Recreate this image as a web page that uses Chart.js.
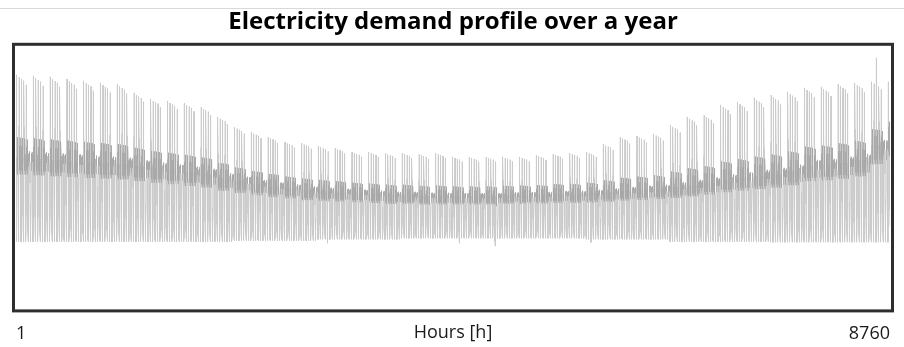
<!DOCTYPE html>
<html>
<head>
<meta charset="utf-8">
<script src="https://cdn.jsdelivr.net/npm/chart.js@4.4.1/dist/chart.umd.min.js"></script>
<style>
  body { margin: 0; background: #fff; }
</style>
</head>
<body>
<canvas id="demand" width="904" height="347"></canvas>
<script>
// Weekly levels (53 weeks, the last one is a single day)
// peak reached on the first working day of each week
const weekdayPeak = [89.3, 88.9, 88.5, 87.7, 87.0, 86.2, 85.8, 82.4, 80.1, 79.3,
  78.5, 77.0, 73.2, 69.3, 67.4, 65.5, 63.6, 63.2, 62.1, 61.3,
  59.8, 59.8, 59.4, 59.4, 59.0, 59.4, 57.9, 57.9, 57.9, 57.9,
  57.9, 58.6, 59.0, 59.4, 59.8, 62.8, 65.5, 65.9, 66.7, 70.1,
  73.2, 73.9, 77.8, 78.9, 80.5, 81.6, 82.8, 84.3, 84.7, 85.8,
  86.2, 86.6, 86.6];
// daytime plateau level
const dayLevel = [57.5, 57.1, 56.7, 56.3, 55.9, 55.6, 55.2, 54.4, 53.6, 52.9,
  52.1, 51.3, 49.8, 48.7, 47.5, 46.7, 46.0, 45.2, 44.8, 44.4,
  44.1, 43.7, 43.3, 43.3, 42.9, 42.9, 42.9, 42.9, 42.9, 43.3,
  43.3, 43.3, 43.7, 43.7, 44.1, 44.4, 44.8, 45.2, 45.6, 46.4,
  47.1, 47.9, 49.0, 49.8, 50.6, 51.3, 52.5, 54.4, 54.8, 55.6,
  56.7, 62.5, 66.3];
// night minimum
const nightBase = [25.5, 25.5, 25.5, 25.5, 25.5, 25.5, 25.5, 25.5, 25.5, 25.5,
  25.5, 25.5, 25.5, 25.9, 25.9, 25.9, 25.9, 25.9, 26.4, 26.4,
  26.4, 26.4, 26.4, 26.8, 26.8, 26.8, 26.8, 26.8, 26.8, 26.8,
  26.8, 26.8, 26.8, 26.8, 26.4, 26.4, 26.4, 26.4, 26.4, 25.5,
  25.5, 25.5, 25.5, 25.5, 25.5, 25.3, 25.3, 25.3, 25.3, 25.3,
  25.3, 25.3, 25.3];

// Hourly profile: 0 = night minimum, 1 = daytime plateau, 2 = peak
const weekdayShape = [0.1, 0.02, 0, 0, 0.05, 0.3, 0.9, 1.4, 2.0, 1.4, 1.0, 0.85,
  1.15, 0.85, 1.1, 0.9, 1.15, 0.85, 1.25, 1.05, 0.8, 0.5, 0.3, 0.15];
const weekendShape = [0.1, 0.02, 0, 0, 0, 0.05, 0.2, 0.5, 0.85, 1.1, 0.9, 1.15,
  0.85, 1.1, 0.9, 1.15, 0.85, 1.1, 1.2, 0.95, 0.7, 0.45, 0.25, 0.1];
// Mon..Sun share of the weekly peak
const dayPeakFactor = [1.0, 0.97, 0.95, 0.93, 0.88, 0.4, 0.35];

// Single days that stand out
const dipDays = [130, 185, 200, 240];
const dipValues = [24.9, 24.9, 23.8, 25.3];
const spikeDays = [359];
const spikeValues = [95.8];

const xTicks = [1, 8760];

// hourly series
const demand = [];
const plateau = [];
for (let d = 0; d < 365; d++) {
  const w = Math.floor(d / 7), dow = d % 7;
  const shape = dow < 5 ? weekdayShape : weekendShape;
  const dip = dipDays.indexOf(d);
  const base = dip >= 0 ? dipValues[dip] : nightBase[w];
  const mid = dayLevel[w];
  const top = mid + dayPeakFactor[dow] * (weekdayPeak[w] - mid);
  const spike = spikeDays.indexOf(d);
  for (let h = 0; h < 24; h++) {
    const s = shape[h];
    let v = s <= 1 ? base + s * (mid - base) : mid + (s - 1) * (top - mid);
    if (spike >= 0 && h === 8) v = spikeValues[spike];
    demand.push({ x: d * 24 + h + 1, y: v });
    plateau.push(s >= 0.8 && s <= 1.25);
  }
}

// frame round the plot and the thin rule at the top
const framePlugin = {
  id: 'frame',
  beforeDraw(chart) {
    const c = chart.ctx;
    c.save();
    c.fillStyle = '#d9d9d9';
    c.fillRect(0, 8, chart.width, 1);
    c.restore();
  },
  afterDraw(chart) {
    const { left, right, top, bottom } = chart.chartArea;
    const c = chart.ctx;
    c.save();
    c.strokeStyle = '#2e2e2e';
    c.lineWidth = 3;
    c.strokeRect(left - 2.5, top - 2.5, right - left + 5, bottom - top + 5);
    c.restore();
  }
};

const labelFont = { family: "'Open Sans', sans-serif", size: 18 };

new Chart(document.getElementById('demand'), {
  type: 'line',
  data: {
    datasets: [{
      data: demand,
      borderWidth: 1,
      pointRadius: 0,
      tension: 0,
      segment: {
        borderColor: ctx => plateau[ctx.p0DataIndex] && plateau[ctx.p1DataIndex] ? '#a8a8a8' : '#cbcbcb'
      }
    }]
  },
  options: {
    responsive: false,
    animation: false,
    devicePixelRatio: 1,
    layout: { padding: { left: 16, right: 14, top: 0, bottom: 3 } },
    plugins: {
      legend: { display: false },
      tooltip: { enabled: false },
      title: {
        display: true,
        text: 'Electricity demand profile over a year',
        color: '#000',
        font: { family: "'Open Sans', sans-serif", size: 24, weight: 'bold' },
        padding: { top: 8, bottom: 10 }
      }
    },
    scales: {
      x: {
        type: 'linear',
        min: 1,
        max: 8760,
        afterBuildTicks: axis => { axis.ticks = xTicks.map(v => ({ value: v })); },
        // axis title sits on the same line as the tick labels
        afterFit: axis => { axis.height = 35.6; },
        grid: { display: false },
        border: { display: false },
        ticks: {
          align: 'inner',
          autoSkip: false,
          maxRotation: 0,
          padding: 7,
          color: '#1a1a1a',
          font: labelFont,
          callback: v => String(v)
        },
        title: {
          display: true,
          text: 'Hours [h]',
          color: '#1a1a1a',
          font: labelFont,
          padding: 0
        }
      },
      y: {
        display: false,
        min: 0,
        max: 100
      }
    }
  },
  plugins: [framePlugin]
});
</script>
</body>
</html>
